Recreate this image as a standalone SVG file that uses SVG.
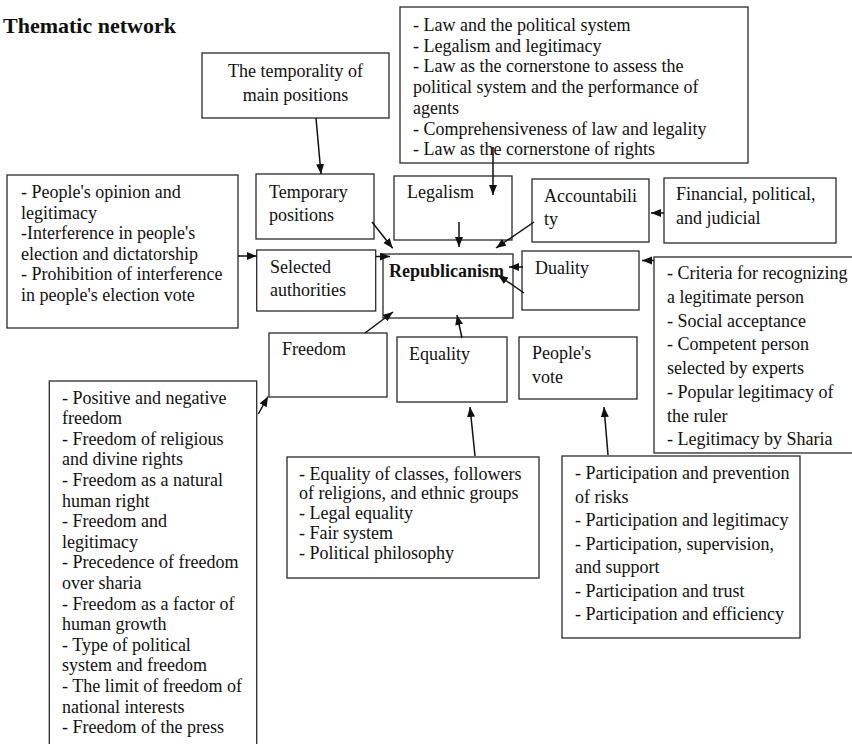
<svg xmlns="http://www.w3.org/2000/svg" width="852" height="744" viewBox="0 0 852 744">
<style>
.box{fill:#fff;stroke:#2a2a2a;stroke-width:1.3}
.t{font-family:"Liberation Serif","Times New Roman",serif;font-size:18px;fill:#111}
.b{font-weight:bold}
.c{text-anchor:middle}
.ln{stroke:#111;stroke-width:1.5;fill:none;marker-end:url(#ah)}
</style>
<defs>
<marker id="ah" markerUnits="userSpaceOnUse" markerWidth="11" markerHeight="9" refX="10" refY="4" orient="auto">
<path d="M0,0 L10,4 L0,8 z" fill="#111"/>
</marker>
</defs>
<rect width="852" height="744" fill="#fff"/>
<text class="t b" x="3" y="33" style="font-size:22px">Thematic network</text>

<g id="temporality">
<rect class="box" x="202" y="53" width="187" height="65"/>
<text class="t c" x="295.5" y="77">The temporality of</text>
<text class="t c" x="295.5" y="100.5">main positions</text>
</g>
<g id="law">
<rect class="box" x="400" y="7" width="348" height="156"/>
<text class="t" x="413" y="31">- Law and the political system</text>
<text class="t" x="413" y="51.7">- Legalism and legitimacy</text>
<text class="t" x="413" y="72.4">- Law as the cornerstone to assess the</text>
<text class="t" x="413" y="93.1">political system and the performance of</text>
<text class="t" x="413" y="113.8">agents</text>
<text class="t" x="413" y="134.5">- Comprehensiveness of law and legality</text>
<text class="t" x="413" y="155.2">- Law as the cornerstone of rights</text>
</g>
<g id="temporary">
<rect class="box" x="256" y="174" width="118" height="65"/>
<text class="t" x="269" y="198">Temporary</text>
<text class="t" x="269" y="220.5">positions</text>
</g>
<g id="legalism">
<rect class="box" x="394" y="176" width="118" height="64"/>
<text class="t" x="407" y="198">Legalism</text>
</g>
<g id="accountability">
<rect class="box" x="532" y="179" width="117" height="63"/>
<text class="t" x="544" y="202">Accountabili</text>
<text class="t" x="544" y="225">ty</text>
</g>
<g id="financial">
<rect class="box" x="664" y="178" width="172" height="65"/>
<text class="t" x="676" y="200">Financial, political,</text>
<text class="t" x="676" y="224">and judicial</text>
</g>
<g id="opinion">
<rect class="box" x="7" y="175" width="231" height="153"/>
<text class="t" x="21" y="198.3">- People's opinion and</text>
<text class="t" x="21" y="218.8">legitimacy</text>
<text class="t" x="21" y="239.3">-Interference in people's</text>
<text class="t" x="21" y="259.8">election and dictatorship</text>
<text class="t" x="21" y="280.3">- Prohibition of interference</text>
<text class="t" x="21" y="300.8">in people's election vote</text>
</g>
<g id="selected">
<rect class="box" x="256.7" y="250" width="119" height="61"/>
<text class="t" x="270" y="272.5">Selected</text>
<text class="t" x="270" y="296">authorities</text>
</g>
<g id="republicanism">
<rect class="box" x="383" y="254" width="130" height="64"/>
<text class="t b" x="389" y="277">Republicanism</text>
</g>
<g id="duality">
<rect class="box" x="522" y="251" width="117" height="59"/>
<text class="t" x="535" y="274">Duality</text>
</g>
<g id="criteria">
<rect class="box" x="654" y="257" width="220" height="196"/>
<text class="t" x="667" y="279.3">- Criteria for recognizing</text>
<text class="t" x="667" y="303">a legitimate person</text>
<text class="t" x="667" y="326.7">- Social acceptance</text>
<text class="t" x="667" y="350.4">- Competent person</text>
<text class="t" x="667" y="374.1">selected by experts</text>
<text class="t" x="667" y="397.8">- Popular legitimacy of</text>
<text class="t" x="667" y="421.5">the ruler</text>
<text class="t" x="667" y="445.2">- Legitimacy by Sharia</text>
</g>
<g id="freedom">
<rect class="box" x="269" y="333" width="118" height="64"/>
<text class="t" x="282" y="355">Freedom</text>
</g>
<g id="equality">
<rect class="box" x="397" y="337" width="110" height="65"/>
<text class="t" x="409" y="360">Equality</text>
</g>
<g id="peoplesvote">
<rect class="box" x="519" y="337" width="118" height="62"/>
<text class="t" x="532" y="359">People's</text>
<text class="t" x="532" y="383">vote</text>
</g>
<g id="freedomlist">
<rect class="box" x="49.3" y="381" width="207.4" height="380"/>
<text class="t" x="62" y="403.5">- Positive and negative</text>
<text class="t" x="62" y="424.1">freedom</text>
<text class="t" x="62" y="444.7">- Freedom of religious</text>
<text class="t" x="62" y="465.3">and divine rights</text>
<text class="t" x="62" y="485.9">- Freedom as a natural</text>
<text class="t" x="62" y="506.5">human right</text>
<text class="t" x="62" y="527.1">- Freedom and</text>
<text class="t" x="62" y="547.7">legitimacy</text>
<text class="t" x="62" y="568.3">- Precedence of freedom</text>
<text class="t" x="62" y="588.9">over sharia</text>
<text class="t" x="62" y="609.5">- Freedom as a factor of</text>
<text class="t" x="62" y="630.1">human growth</text>
<text class="t" x="62" y="650.7">- Type of political</text>
<text class="t" x="62" y="671.3">system and freedom</text>
<text class="t" x="62" y="691.9">- The limit of freedom of</text>
<text class="t" x="62" y="712.5">national interests</text>
<text class="t" x="62" y="733.1">- Freedom of the press</text>
</g>
<g id="equalitylist">
<rect class="box" x="287" y="457" width="252" height="121"/>
<text class="t" x="299" y="479.5">- Equality of classes, followers</text>
<text class="t" x="299" y="499.3">of religions, and ethnic groups</text>
<text class="t" x="299" y="519.1">- Legal equality</text>
<text class="t" x="299" y="538.9">- Fair system</text>
<text class="t" x="299" y="558.7">- Political philosophy</text>
</g>
<g id="participation">
<rect class="box" x="562" y="456" width="238" height="182"/>
<text class="t" x="575" y="479">- Participation and prevention</text>
<text class="t" x="575" y="502.5">of risks</text>
<text class="t" x="575" y="526">- Participation and legitimacy</text>
<text class="t" x="575" y="549.5">- Participation, supervision,</text>
<text class="t" x="575" y="573">and support</text>
<text class="t" x="575" y="596.5">- Participation and trust</text>
<text class="t" x="575" y="620">- Participation and efficiency</text>
</g>

<g id="connectors">
<line class="ln" x1="316" y1="118" x2="321" y2="174"/>
<line class="ln" x1="493" y1="147" x2="493" y2="195"/>
<line class="ln" x1="664" y1="213" x2="651" y2="213"/>
<line class="ln" x1="372" y1="222" x2="392.7" y2="248.3"/>
<line class="ln" x1="459" y1="222" x2="459" y2="247"/>
<line class="ln" x1="534" y1="222" x2="496" y2="248"/>
<line class="ln" x1="238" y1="256" x2="256.7" y2="256"/>
<line class="ln" x1="375.7" y1="256.5" x2="390" y2="256.5"/>
<line class="ln" x1="523" y1="267" x2="509" y2="267"/>
<line class="ln" x1="524" y1="293" x2="498" y2="275"/>
<line class="ln" x1="654" y1="260.5" x2="642" y2="260.5"/>
<line class="ln" x1="365" y1="333" x2="393" y2="312"/>
<line class="ln" x1="462" y1="338" x2="457" y2="315"/>
<line class="ln" x1="258.3" y1="414" x2="268" y2="396.5"/>
<line class="ln" x1="475" y1="456" x2="470" y2="407"/>
<line class="ln" x1="608" y1="455" x2="604" y2="407"/>
</g>
</svg>
